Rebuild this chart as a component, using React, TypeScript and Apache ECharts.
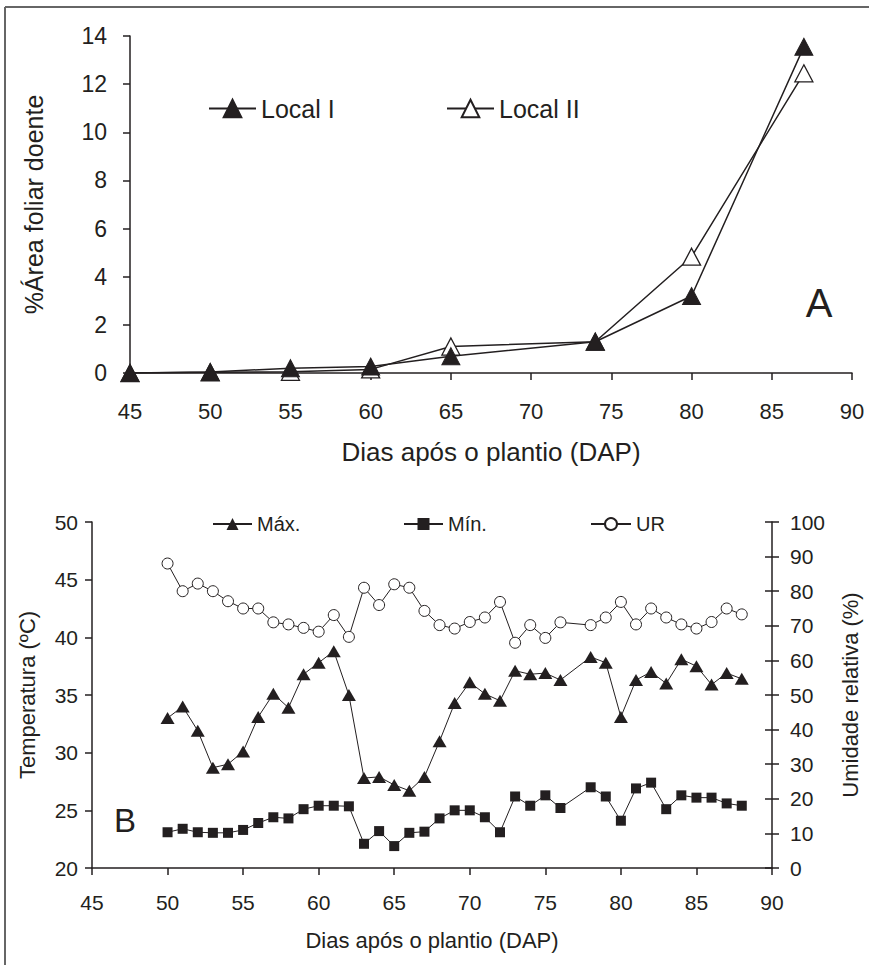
import React, { useEffect, useRef } from "react";
import * as echarts from "echarts";

// ---- Chart A data ----
const daysA = [45, 50, 55, 60, 65, 74, 80, 87];
const localI = [0, 0.04, 0.2, 0.27, 0.7, 1.3, 3.2, 13.55];
const localII = [0, 0.03, 0.05, 0.15, 1.1, 1.3, 4.83, 12.45];

// ---- Chart B data ----
const daysB = [
  50, 51, 52, 53, 54, 55, 56, 57, 58, 59, 60, 61, 62, 63, 64, 65, 66, 67, 68, 69,
  70, 71, 72, 73, 74, 75, 76, 78, 79, 80, 81, 82, 83, 84, 85, 86, 87, 88,
];
const tMax = [
  33.0, 34.0, 31.9, 28.7, 29.0, 30.1, 33.1, 35.1, 33.9, 36.8, 37.8, 38.8, 35.0, 27.8,
  27.9, 27.2, 26.7, 27.9, 31.0, 34.3, 36.1, 35.1, 34.5, 37.1, 36.8, 36.9, 36.3, 38.3,
  37.8, 33.1, 36.3, 37.0, 36.0, 38.1, 37.5, 35.9, 36.9, 36.4,
];
const tMin = [
  23.1, 23.4, 23.1, 23.05, 23.05, 23.3, 23.9, 24.4, 24.3, 25.1, 25.4, 25.4, 25.35, 22.1,
  23.2, 21.9, 23.05, 23.15, 24.3, 25.0, 25.0, 24.4, 23.1, 26.2, 25.4, 26.3, 25.2, 27.0,
  26.2, 24.1, 26.9, 27.4, 25.1, 26.3, 26.1, 26.1, 25.6, 25.4,
];
const ur = [
  88.0, 80.0, 82.2, 80.0, 77.1, 75.0, 75.0, 71.0, 70.4, 69.4, 68.3, 73.1, 66.8, 81.0,
  76.0, 82.0, 81.0, 74.3, 70.2, 69.2, 71.1, 72.4, 76.9, 65.1, 70.2, 66.5, 71.0, 70.2,
  72.4, 76.9, 70.4, 75.0, 72.4, 70.4, 69.2, 71.1, 75.0, 73.3,
];

const INK = "#231f20";
const FONT = "'Liberation Sans', Arial, sans-serif";

const pairs = (xs: number[], ys: number[]) => xs.map((x, i) => [x, ys[i]]);

export default function App() {
  const ref = useRef<HTMLDivElement>(null);
  useEffect(() => {
    if (!ref.current) return;
    const chart = echarts.init(ref.current, undefined, { renderer: "svg" });
    const axisLine = { show: true, onZero: false, lineStyle: { color: INK, width: 1.5 } };
    const tick = { show: true, inside: false, length: 7, lineStyle: { color: INK, width: 1.5 } };
    const option: any = {
      animation: false,
      backgroundColor: "#ffffff",
      textStyle: { fontFamily: FONT, color: INK },
      grid: [
        { left: 130, top: 36, width: 722, height: 337 },
        { left: 92, top: 522, width: 688, height: 346 },
      ],
      xAxis: [
        {
          gridIndex: 0,
          type: "value",
          min: 45,
          max: 90,
          interval: 5,
          axisLine,
          axisTick: tick,
          splitLine: { show: false },
          axisLabel: { fontSize: 22, color: INK, margin: 27, fontFamily: FONT },
          name: "Dias após o plantio (DAP)",
          nameLocation: "middle",
          nameGap: 66,
          nameTextStyle: { fontSize: 26, color: INK, fontFamily: FONT },
        },
        {
          gridIndex: 1,
          type: "value",
          min: 45,
          max: 90,
          interval: 5,
          axisLine,
          axisTick: tick,
          splitLine: { show: false },
          axisLabel: { fontSize: 21, color: INK, margin: 24, fontFamily: FONT },
          name: "Dias após o plantio (DAP)",
          nameLocation: "middle",
          nameGap: 61,
          nameTextStyle: { fontSize: 22, color: INK, fontFamily: FONT },
        },
      ],
      yAxis: [
        {
          gridIndex: 0,
          type: "value",
          min: 0,
          max: 14,
          interval: 2,
          axisLine,
          axisTick: tick,
          splitLine: { show: false },
          axisLabel: { fontSize: 23, color: INK, margin: 23, fontFamily: FONT },
          name: "%Área foliar doente",
          nameLocation: "middle",
          nameGap: 84,
          nameTextStyle: { fontSize: 25, color: INK, fontFamily: FONT },
        },
        {
          gridIndex: 1,
          type: "value",
          position: "left",
          min: 20,
          max: 50,
          interval: 5,
          axisLine,
          axisTick: tick,
          splitLine: { show: false },
          axisLabel: { fontSize: 21, color: INK, margin: 14, fontFamily: FONT },
          name: "Temperatura (ºC)",
          nameLocation: "middle",
          nameGap: 54,
          nameTextStyle: { fontSize: 22, color: INK, fontFamily: FONT },
        },
        {
          gridIndex: 1,
          type: "value",
          position: "right",
          min: 0,
          max: 100,
          interval: 10,
          axisLine,
          axisTick: tick,
          splitLine: { show: false },
          axisLabel: { fontSize: 21, color: INK, margin: 18, fontFamily: FONT },
          name: "Umidade relativa (%)",
          nameLocation: "middle",
          nameGap: 67,
          nameTextStyle: { fontSize: 22, color: INK, fontFamily: FONT },
        },
        {
          gridIndex: 1,
          type: "value",
          position: "right",
          offset: 0,
          min: 0,
          max: 100,
          interval: 10,
          axisLine: { show: false },
          axisTick: { show: true, inside: true, length: 7, lineStyle: { color: INK, width: 1.5 } },
          splitLine: { show: false },
          axisLabel: { show: false },
        },
      ],
      legend: [
        {
          data: ["Local I"],
          left: 203,
          top: 91,
          itemWidth: 47,
          itemHeight: 22,
          itemGap: 5,
          textStyle: { fontSize: 25, color: INK, fontFamily: FONT },
        },
        {
          data: ["Local II"],
          left: 441,
          top: 91,
          itemWidth: 47,
          itemHeight: 22,
          textStyle: { fontSize: 25, color: INK, fontFamily: FONT },
        },
        {
          data: ["Máx."],
          left: 207,
          top: 509,
          itemWidth: 39,
          itemHeight: 15,
          textStyle: { fontSize: 20, color: INK, fontFamily: FONT },
        },
        {
          data: ["Mín."],
          left: 398,
          top: 509,
          itemWidth: 39,
          itemHeight: 15,
          textStyle: { fontSize: 20, color: INK, fontFamily: FONT },
        },
        {
          data: ["UR"],
          left: 585,
          top: 509,
          itemWidth: 40,
          itemHeight: 15,
          textStyle: { fontSize: 20, color: INK, fontFamily: FONT },
        },
      ],
      graphic: [
        { type: "line", shape: { x1: 5, y1: 7, x2: 869, y2: 7 }, style: { stroke: "#666", lineWidth: 2 } },
        { type: "line", shape: { x1: 5, y1: 7, x2: 5, y2: 965 }, style: { stroke: "#666", lineWidth: 2 } },
        {
          type: "text",
          style: { text: "A", x: 819, y: 303, textAlign: "center", textVerticalAlign: "middle", fontSize: 40, fontFamily: FONT, fill: INK },
        },
        {
          type: "text",
          style: { text: "B", x: 125, y: 820, textAlign: "center", textVerticalAlign: "middle", fontSize: 33, fontFamily: FONT, fill: INK },
        },
      ],
      series: [
        {
          name: "Local II",
          type: "line",
          xAxisIndex: 0,
          yAxisIndex: 0,
          data: pairs(daysA, localII),
          symbol: "triangle",
          symbolSize: [18, 17],
          itemStyle: { color: "#ffffff", borderColor: INK, borderWidth: 1.3 },
          lineStyle: { color: INK, width: 1.5 },
        },
        {
          name: "Local I",
          type: "line",
          xAxisIndex: 0,
          yAxisIndex: 0,
          data: pairs(daysA, localI),
          symbol: "triangle",
          symbolSize: [18, 17],
          itemStyle: { color: INK, borderColor: INK, borderWidth: 1 },
          lineStyle: { color: INK, width: 1.5 },
        },
        {
          name: "Máx.",
          type: "line",
          xAxisIndex: 1,
          yAxisIndex: 1,
          data: pairs(daysB, tMax),
          symbol: "triangle",
          symbolSize: [14, 12],
          itemStyle: { color: INK },
          lineStyle: { color: INK, width: 1 },
        },
        {
          name: "Mín.",
          type: "line",
          xAxisIndex: 1,
          yAxisIndex: 1,
          data: pairs(daysB, tMin),
          symbol: "rect",
          symbolSize: 10,
          itemStyle: { color: INK },
          lineStyle: { color: INK, width: 1 },
        },
        {
          name: "UR",
          type: "line",
          xAxisIndex: 1,
          yAxisIndex: 2,
          data: pairs(daysB, ur),
          symbol: "circle",
          symbolSize: 11,
          itemStyle: { color: "#ffffff", borderColor: INK, borderWidth: 1 },
          lineStyle: { color: INK, width: 1 },
        },
      ],
    };
    chart.setOption(option);
    return () => chart.dispose();
  }, []);
  return (
    <div
      ref={ref}
      style={{ position: "absolute", left: 0, top: 0, width: 869, height: 965, background: "#fff" }}
    />
  );
}
